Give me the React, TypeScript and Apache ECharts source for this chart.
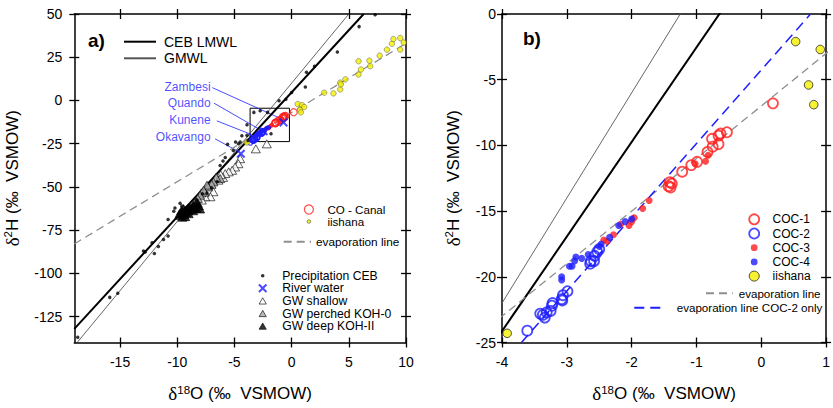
import React, { useEffect, useRef } from 'react';
import * as echarts from 'echarts';

// ---------- data (δ18O, δ2H) ----------
const precipitation = [
  [7.3, 49.6], [5.9, 42.7], [4.0, 28.0], [2.0, 19.8], [1.3, 16.3], [1.2, 7.8], [0.0, 4.6], [-0.5, 0.7],
  [-1.1, -0.2], [-2.1, -6.9], [-2.75, -6.0], [-3.3, -6.9], [-3.9, -14.0], [-1.8, -19.3], [-3.9, -20.2],
  [-4.35, -20.4], [-3.8, -23.2], [-4.5, -24.1], [-4.65, -25.1], [-4.9, -24.0], [-5.6, -25.4], [-5.1, -29.0],
  [-5.8, -33.0], [-6.0, -35.0], [-6.25, -37.6], [-6.5, -47.0], [-7.0, -50.5], [-7.4, -53.5], [-7.8, -54.0],
  [-8.3, -57.5], [-8.9, -61.4], [-9.75, -59.4], [-10.2, -62.2], [-10.3, -64.1], [-9.6, -61.0], [-9.9, -66.0],
  [-10.8, -68.9], [-10.8, -78.4], [-11.2, -80.4], [-11.65, -84.5], [-12.0, -88.5], [-12.2, -82.3],
  [-12.95, -87.1], [-12.8, -87.6], [-15.9, -113.9], [-15.2, -111.5], [-18.7, -137.0],
];
const riverWater = [[-4.44, -30.8], [-3.4, -21.2], [-2.45, -17.8], [-0.71, -12.7]];
const gwShallow = [
  [-3.13, -28.0], [-2.17, -25.1], [-4.5, -33.7], [-4.65, -36.6], [-4.94, -38.5], [-5.2, -40.4], [-5.5, -41.3],
  [-5.8, -42.3], [-6.0, -44.5], [-6.2, -43.0], [-6.4, -46.1], [-6.84, -52.8], [-7.1, -55.7], [-7.56, -55.7],
  [-7.85, -57.6], [-7.9, -53.5],
];
const gwPerched = [
  [-6.25, -45.2], [-6.6, -44.5], [-6.84, -47.1], [-7.0, -48.5], [-7.3, -50.0], [-7.4, -49.0], [-7.6, -53.0],
  [-7.7, -51.9], [-8.0, -54.8], [-8.2, -56.7], [-8.4, -58.5],
];
const gwDeep = [
  [-9.7, -66.5], [-9.6, -65.2], [-9.5, -64.5], [-9.4, -66.0], [-9.3, -63.5], [-9.2, -64.8], [-9.1, -62.5],
  [-9.0, -63.8], [-8.9, -61.8], [-8.8, -63.0], [-8.7, -62.0], [-8.6, -60.8], [-8.5, -61.5], [-8.4, -60.0],
  [-8.3, -62.5], [-8.2, -59.5], [-8.1, -61.0], [-9.45, -62.5], [-9.65, -63.8], [-9.8, -65.5], [-8.0, -62.8],
  [-9.0, -65.5], [-9.3, -67.2], [-8.6, -63.8], [-9.55, -67.5],
];
const coc1 = [
  [0.18, -6.8], [-0.53, -9.0], [-0.63, -9.1], [-0.66, -9.25], [-0.76, -9.5], [-0.66, -9.9], [-0.75, -10.1],
  [-0.83, -10.5], [-0.99, -11.25], [-1.08, -11.5], [-1.22, -12.0], [-1.41, -12.8], [-1.4, -13.2],
  [-1.43, -13.1], [-1.38, -12.9],
];
const coc2 = [
  [-2.5, -17.9], [-2.53, -18.1], [-2.57, -18.4], [-2.58, -18.8], [-2.64, -19.0], [-2.63, -18.8],
  [-2.99, -21.1], [-3.06, -21.4], [-3.07, -21.8], [-3.08, -21.7], [-3.22, -22.0], [-3.23, -22.2],
  [-3.25, -22.6], [-3.31, -22.7], [-3.37, -22.9], [-3.41, -22.8], [-3.34, -23.1], [-3.61, -24.1],
];
const coc3 = [
  [-0.86, -11.2], [-0.82, -10.75], [-1.02, -11.4], [-1.73, -14.2], [-1.83, -14.8], [-1.96, -15.5],
  [-2.0, -15.8], [-2.04, -16.1], [-2.17, -16.0], [-2.28, -16.8], [-2.38, -17.3], [-2.43, -17.2],
];
const coc4 = [
  [-2.0, -15.6], [-2.1, -15.8], [-2.2, -16.1], [-2.34, -17.0], [-2.47, -17.5], [-2.5, -17.7], [-2.67, -18.3],
  [-2.77, -18.6], [-2.86, -18.5], [-2.88, -18.8], [-2.92, -19.2], [-2.96, -19.2], [-3.08, -20.0],
  [-3.08, -20.25],
];
const iishana = [
  [-3.92, -24.3], [0.53, -2.1], [0.91, -2.7], [0.73, -5.4], [0.81, -6.9], [1.1, -3.8], [2.85, 4.5],
  [3.66, 4.1], [4.25, 6.4], [4.25, 10.3], [4.7, 12.2], [4.3, 9.3], [5.85, 15.0], [6.06, 17.9], [5.85, 22.7],
  [6.87, 19.8], [6.8, 23.0], [7.7, 25.9], [8.33, 29.4], [8.77, 32.8], [8.9, 35.5], [9.5, 36.1], [9.8, 33.5],
  [9.5, 29.4],
];
// regression lines: end points
const lmwlLine = [[-19, -132.1], [6.3, 50]];
const gmwlLine = [[-18.75, -140], [5, 50]];
const evapLine = [[-19, -83], [10, 33]];
const evapCoc2Line = [[-3.7, -25], [0.76, 0]];
// annotations of panel a
const riverNames = ['Zambesi', 'Quando', 'Kunene', 'Okavango'];
const riverLabelAt = [[-7.0, 8.0], [-7.0, -1.6], [-7.0, -11.2], [-7.0, -21.3]];
const leaderStart = [[-6.93, 7.4], [-6.78, -1.6], [-6.54, -11.8], [-6.69, -22.2]];
const leaderEnd = [[-0.85, -10.8], [-2.6, -17.5], [-3.63, -19.4], [-4.79, -29.0]];
const zoomBox = [[-3.63, -4.5], [-0.19, -23.8]];
// axes
const xTicksA = [-15, -10, -5, 0, 5, 10];
const yTicksA = [-125, -100, -75, -50, -25, 0, 25, 50];
const xTicksB = [-4, -3, -2, -1, 0, 1];
const yTicksB = [-25, -20, -15, -10, -5, 0];

const FONT = 'Liberation Sans, Arial, sans-serif';
const RED = '#ff1e1e';
const BLUE = '#1e1eff';
const YELLOW = '#f5f000';
const X_SYMBOL = 'path://M1.6,0L5,3.4L8.4,0L10,1.6L6.6,5L10,8.4L8.4,10L5,6.6L1.6,10L0,8.4L3.4,5L0,1.6Z';
const DOT_ICON = 'path://M0,0M10,10M3,5A2,2,0,1,1,7,5A2,2,0,1,1,3,5Z';
const DOT7_ICON = 'path://M0,0M10,10M1.6,5A3.4,3.4,0,1,1,8.4,5A3.4,3.4,0,1,1,1.6,5Z';
const TRI_ICON = 'path://M0,0M10,10M5,1.5L9,8.5L1,8.5Z';
const NO_SYMBOL = { opacity: 0, borderWidth: 0 };

const nameStyle = {
  color: '#000',
  fontFamily: FONT,
  fontSize: 17,
  rich: {
    d: { fontFamily: 'Liberation Serif, serif', fontSize: 19, color: '#000', lineHeight: 20 },
    s: { fontFamily: FONT, fontSize: 11.5, color: '#000', verticalAlign: 'top', lineHeight: 20 },
    t: { fontFamily: FONT, fontSize: 17, color: '#000', lineHeight: 20 },
  },
};

const lineSt = { color: '#000', width: 1.5 };
const tickSt = { color: '#000', width: 1.3 };

function xAxes(grid: number, min: number, max: number, vals: number[], nameGap: number) {
  const base = { type: 'value', gridIndex: grid, min, max, splitLine: { show: false } };
  return [
    {
      ...base, position: 'bottom',
      axisLine: { show: true, onZero: false, lineStyle: lineSt },
      axisTick: { show: true, inside: false, length: 5, customValues: vals, lineStyle: tickSt },
      axisLabel: { show: true, customValues: vals, margin: 12, fontSize: 14, color: '#000', fontFamily: FONT },
      name: '{d|δ}{s|18}{t|O (‰  VSMOW)}', nameLocation: 'middle', nameGap, nameTextStyle: nameStyle,
    },
    {
      ...base, position: 'bottom', axisLine: { show: false, onZero: false },
      axisTick: { show: true, inside: true, length: 5, customValues: vals, lineStyle: tickSt },
      axisLabel: { show: false },
    },
    {
      ...base, position: 'top', axisLine: { show: true, onZero: false, lineStyle: lineSt },
      axisTick: { show: true, inside: false, length: 5, customValues: vals, lineStyle: tickSt },
      axisLabel: { show: false },
    },
    {
      ...base, position: 'top', axisLine: { show: false, onZero: false },
      axisTick: { show: true, inside: true, length: 5, customValues: vals, lineStyle: tickSt },
      axisLabel: { show: false },
    },
  ];
}

function yAxes(grid: number, min: number, max: number, vals: number[], nameGap: number, labelMargin: number) {
  const base = { type: 'value', gridIndex: grid, min, max, splitLine: { show: false } };
  return [
    {
      ...base, position: 'left',
      axisLine: { show: true, onZero: false, lineStyle: lineSt },
      axisTick: { show: true, inside: false, length: 5, customValues: vals, lineStyle: tickSt },
      axisLabel: { show: true, customValues: vals, margin: labelMargin, fontSize: 14, color: '#000', fontFamily: FONT },
      name: '{d|δ}{s|2}{t|H (‰  VSMOW)}', nameLocation: 'middle', nameGap, nameTextStyle: nameStyle,
    },
    {
      ...base, position: 'left', axisLine: { show: false, onZero: false },
      axisTick: { show: true, inside: true, length: 5, customValues: vals, lineStyle: tickSt },
      axisLabel: { show: false },
    },
    {
      ...base, position: 'right', axisLine: { show: true, onZero: false, lineStyle: lineSt },
      axisTick: { show: true, inside: false, length: 5, customValues: vals, lineStyle: tickSt },
      axisLabel: { show: false },
    },
    {
      ...base, position: 'right', axisLine: { show: false, onZero: false },
      axisTick: { show: true, inside: true, length: 5, customValues: vals, lineStyle: tickSt },
      axisLabel: { show: false },
    },
  ];
}

function lineSeries(name: string, data: number[][], ax: number, style: any, extra: any = {}) {
  return {
    name, type: 'line', data, xAxisIndex: ax, yAxisIndex: ax, symbol: 'none', clip: true,
    lineStyle: style, itemStyle: { color: style.color }, silent: true, ...extra,
  };
}

function scatter(name: string, data: number[][], ax: number, symbol: string, size: any, itemStyle: any, z = 3) {
  return { name, type: 'scatter', data, xAxisIndex: ax, yAxisIndex: ax, symbol, symbolSize: size, itemStyle, z, silent: true };
}

const LMWL_ST = { color: '#000', width: 2 };
const GMWL_ST = { color: '#555', width: 0.9 };
const EVAP_ST = { color: '#8f8f8f', width: 1.3, type: [8, 5] };
const EVAP2_ST = { color: BLUE, width: 1.5, type: [10, 6] };

function buildOption() {
  const A = 0;
  const B = 4;
  const legendBase = { orient: 'vertical', padding: 0, selectedMode: false, itemGap: 0 };
  return {
    animation: false,
    backgroundColor: '#fff',
    grid: [
      { left: 74.3, top: 14, width: 331.7, height: 332 },
      { left: 502, top: 14, width: 330.5, height: 332 },
    ],
    xAxis: [...xAxes(0, -19, 10, xTicksA, 41), ...xAxes(1, -4, 1, xTicksB, 41)],
    yAxis: [...yAxes(0, -140, 50, yTicksA, 52, 12), ...yAxes(1, -25, 0, yTicksB, 39, 6)],
    legend: [
      {
        ...legendBase, left: 123, top: 34.7, itemWidth: 32, itemHeight: 14, itemGap: 2.6,
        textStyle: { fontSize: 14, lineHeight: 14, color: '#000', fontFamily: FONT, padding: [0, 0, 0, 3] },
        data: [
          { name: 'CEB LMWL', itemStyle: NO_SYMBOL },
          { name: 'GMWL', itemStyle: NO_SYMBOL },
        ],
      },
      {
        ...legendBase, left: 303.8, top: 203.5, itemWidth: 9, itemHeight: 9,
        textStyle: { fontSize: 11.6, lineHeight: 11.7, color: '#000', fontFamily: FONT, padding: [0, 0, 0, 9] },
        data: [
          { name: 'CO - Canal', itemStyle: { borderWidth: 1.2 } },
          { name: 'iishana', icon: DOT_ICON, itemStyle: { borderWidth: 0.6 } },
        ],
      },
      {
        ...legendBase, left: 282.7, top: 234.7, itemWidth: 27.3, itemHeight: 14,
        textStyle: { fontSize: 11.8, lineHeight: 14, color: '#000', fontFamily: FONT },
        data: [{ name: 'evaporation line', itemStyle: NO_SYMBOL }],
      },
      {
        ...legendBase, left: 257.8, top: 269.4, itemWidth: 9, itemHeight: 9,
        textStyle: { fontSize: 12.2, lineHeight: 12.6, color: '#000', fontFamily: FONT, padding: [0, 0, 0, 10] },
        data: [
          { name: 'Precipitation CEB', icon: DOT_ICON, itemStyle: { borderWidth: 0 } },
          { name: 'River water', itemStyle: { borderWidth: 0 } },
          { name: 'GW shallow', icon: TRI_ICON, itemStyle: { borderWidth: 0.8 } },
          { name: 'GW perched KOH-0', icon: TRI_ICON, itemStyle: { borderWidth: 0.8 } },
          { name: 'GW deep KOH-II', icon: TRI_ICON, itemStyle: { borderWidth: 0.8 } },
        ],
      },
      {
        ...legendBase, left: 748.3, top: 212.2, itemWidth: 10, itemHeight: 10,
        textStyle: { fontSize: 12, lineHeight: 14.2, color: '#000', fontFamily: FONT, padding: [0, 0, 0, 8.4] },
        data: [
          { name: 'COC-1', itemStyle: { borderWidth: 1.8 } },
          { name: 'COC-2', itemStyle: { borderWidth: 1.8 } },
          { name: 'COC-3', icon: DOT7_ICON, itemStyle: { borderWidth: 0 } },
          { name: 'COC-4', icon: DOT7_ICON, itemStyle: { borderWidth: 0 } },
          { name: 'iishana', itemStyle: { borderWidth: 1 } },
        ],
      },
      {
        ...legendBase, left: 705, top: 286.3, itemWidth: 26.7, itemHeight: 14,
        textStyle: { fontSize: 11.6, lineHeight: 14, color: '#000', fontFamily: FONT, padding: [0, 0, 0, 1] },
        data: [{ name: 'evaporation line', itemStyle: NO_SYMBOL }],
      },
      {
        ...legendBase, left: 633.3, top: 300.7, itemWidth: 31.7, itemHeight: 14,
        textStyle: { fontSize: 11.6, lineHeight: 14, color: '#000', fontFamily: FONT, padding: [0, 0, 0, 5.7] },
        data: [{ name: 'evaporation line COC-2 only', itemStyle: NO_SYMBOL }],
      },
    ],
    graphic: [
      { type: 'text', left: 88, top: 31, style: { text: 'a)', font: 'bold 19px ' + FONT, fill: '#000' } },
      { type: 'text', left: 523, top: 29, style: { text: 'b)', font: 'bold 19px ' + FONT, fill: '#000' } },
    ],
    series: [
      // ----- panel b -----
      lineSeries('GMWL', gmwlLine, B, GMWL_ST),
      lineSeries('CEB LMWL', lmwlLine, B, LMWL_ST),
      lineSeries('evaporation line', evapLine, B, EVAP_ST),
      lineSeries('evaporation line COC-2 only', evapCoc2Line, B, EVAP2_ST),
      scatter('COC-1', coc1, B, 'circle', 10, { color: 'rgba(255,255,255,0)', borderColor: RED, borderWidth: 1.8 }),
      scatter('COC-2', coc2, B, 'circle', 10, { color: 'rgba(255,255,255,0)', borderColor: BLUE, borderWidth: 1.8 }),
      scatter('COC-3', coc3, B, 'circle', 7, { color: RED }),
      scatter('COC-4', coc4, B, 'circle', 7, { color: BLUE }),
      scatter('iishana', iishana, B, 'circle', 8.5, { color: YELLOW, borderColor: '#222', borderWidth: 1 }),
      // ----- panel a -----
      lineSeries('GMWL', gmwlLine, A, GMWL_ST, {
        markArea: {
          silent: true,
          itemStyle: { color: 'rgba(0,0,0,0)', borderColor: '#000', borderWidth: 1 },
          data: [[{ coord: zoomBox[0] }, { coord: zoomBox[1] }]],
        },
      }),
      lineSeries('CEB LMWL', lmwlLine, A, LMWL_ST),
      lineSeries('evaporation line', evapLine, A, EVAP_ST),
      {
        name: 'leaders', type: 'lines', coordinateSystem: 'cartesian2d', xAxisIndex: A, yAxisIndex: A, silent: true,
        lineStyle: { color: BLUE, width: 0.8, opacity: 1 },
        data: leaderStart.map((s, i) => ({ coords: [s, leaderEnd[i]] })),
      },
      {
        name: 'river labels', type: 'scatter', xAxisIndex: A, yAxisIndex: A, symbolSize: 0, silent: true,
        data: riverLabelAt.map((p, i) => ({ value: p, name: riverNames[i] })),
        label: {
          show: true, position: 'left', distance: 1, formatter: (p: any) => p.name,
          color: BLUE, fontSize: 12, fontFamily: FONT,
        },
      },
      scatter('Precipitation CEB', precipitation, A, 'circle', 3.5, { color: '#000' }, 4),
      scatter('GW shallow', gwShallow, A, 'triangle', [9, 8], { color: '#fff', borderColor: '#000', borderWidth: 0.8 }),
      scatter('GW perched KOH-0', gwPerched, A, 'triangle', [9, 8], { color: '#a8a8a8', borderColor: '#000', borderWidth: 0.8 }),
      scatter('GW deep KOH-II', gwDeep, A, 'triangle', [9, 8], { color: '#000', borderColor: '#000', borderWidth: 0.8 }),
      scatter('CO - Canal', coc1, A, 'circle', 7, { color: 'rgba(255,255,255,0)', borderColor: RED, borderWidth: 1.2 }),
      scatter('COC-3', coc3, A, 'circle', 4.5, { color: RED }),
      scatter('COC-2', coc2, A, 'circle', 6, { color: 'rgba(255,255,255,0)', borderColor: BLUE, borderWidth: 1.2 }),
      scatter('COC-4', coc4, A, 'circle', 4.5, { color: BLUE }),
      scatter('iishana', iishana, A, 'circle', 5.5, { color: YELLOW, borderColor: '#555', borderWidth: 0.6 }),
      scatter('River water', riverWater, A, X_SYMBOL, 9, { color: BLUE }, 5),
    ],
  };
}

export default function App() {
  const ref = useRef<HTMLDivElement>(null);
  useEffect(() => {
    const chart = echarts.init(ref.current as HTMLDivElement, null, { renderer: 'svg' });
    chart.setOption(buildOption() as any);
    return () => chart.dispose();
  }, []);
  return (
    <div
      ref={ref}
      style={{ position: 'absolute', left: 0, top: 0, width: 833, height: 408, background: '#fff' }}
    />
  );
}
